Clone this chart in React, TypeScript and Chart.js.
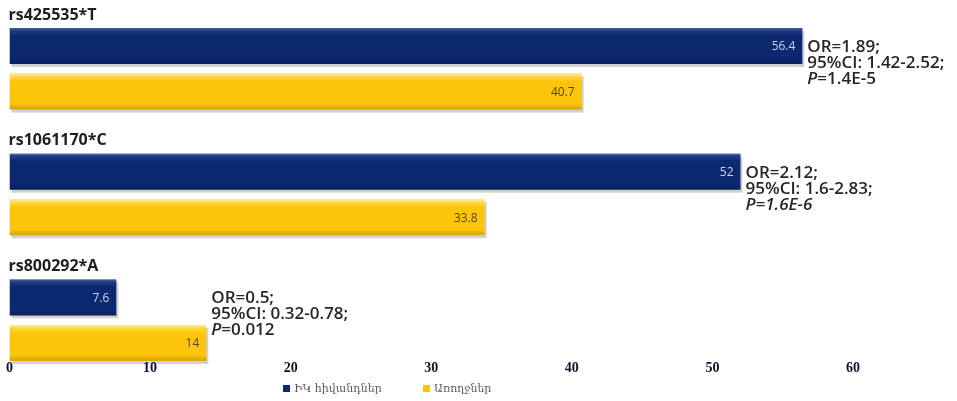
import { useEffect, useRef } from 'react';
import { Chart, registerables } from 'chart.js';

Chart.register(...registerables);

const categories = ['rs425535*T', 'rs1061170*C', 'rs800292*A'];
const seriesNames = ['ԻԿ հիվանդներ', 'Առողջներ'];
const patients = [56.4, 52, 7.6];
const healthy = [40.7, 33.8, 14];
const orValues = ['1.89', '2.12', '0.5'];
const ciValues = ['1.42-2.52', '1.6-2.83', '0.32-0.78'];
const pValues = ['1.4E-5', '1.6E-6', '0.012'];
const pAllItalic = [false, true, false];
const noteAnchorSeries = [0, 0, 1];
const xTicks = [0, 10, 20, 30, 40, 50, 60];
const xMax = 67.4;
const seriesColors = ['#0b2870', '#fcc40a'];
const valueLabelColors = ['#c9d4f0', '#5a4810'];

const TEXT_FONT = '"Open Sans", Lato, "DejaVu Sans", sans-serif';

const decorPlugin = {
  id: 'decor',
  beforeDatasetsDraw(chart: any) {
    const ctx = chart.ctx;
    ctx.save();
    chart.data.datasets.forEach((_: any, d: number) => {
      const meta = chart.getDatasetMeta(d);
      meta.data.forEach((el: any) => {
        const p = el.getProps(['x', 'y', 'base', 'height'], true);
        ctx.fillStyle = 'rgba(0,0,0,0.18)';
        ctx.fillRect(p.base + 2, p.y - p.height / 2 + 3, p.x - p.base, p.height);
      });
    });
    ctx.restore();
  },
  afterDatasetsDraw(chart: any) {
    const ctx = chart.ctx;
    ctx.save();
    chart.data.datasets.forEach((_: any, d: number) => {
      const meta = chart.getDatasetMeta(d);
      meta.data.forEach((el: any) => {
        const p = el.getProps(['x', 'y', 'base', 'height'], true);
        const top = p.y - p.height / 2;
        const g = ctx.createLinearGradient(0, top, 0, top + p.height);
        if (d === 0) {
          g.addColorStop(0, 'rgba(120,150,220,0.55)');
          g.addColorStop(0.08, 'rgba(120,150,220,0.15)');
          g.addColorStop(0.2, 'rgba(255,255,255,0)');
          g.addColorStop(0.85, 'rgba(0,0,0,0)');
          g.addColorStop(1, 'rgba(0,0,0,0.2)');
        } else {
          g.addColorStop(0, 'rgba(255,250,200,0.8)');
          g.addColorStop(0.1, 'rgba(255,245,150,0.35)');
          g.addColorStop(0.22, 'rgba(255,255,255,0)');
          g.addColorStop(0.85, 'rgba(0,0,0,0)');
          g.addColorStop(1, 'rgba(120,80,0,0.25)');
        }
        ctx.fillStyle = g;
        ctx.fillRect(p.base, top, p.x - p.base, p.height);
      });
    });

    ctx.font = '12px ' + TEXT_FONT;
    ctx.textAlign = 'right';
    ctx.textBaseline = 'middle';
    chart.data.datasets.forEach((ds: any, d: number) => {
      const meta = chart.getDatasetMeta(d);
      meta.data.forEach((el: any, i: number) => {
        const p = el.getProps(['x', 'y'], true);
        ctx.fillStyle = valueLabelColors[d];
        ctx.fillText(String(ds.data[i]), p.x - 7, p.y + 1);
      });
    });

    const navy = chart.getDatasetMeta(0);
    ctx.textAlign = 'left';
    ctx.fillStyle = '#1e1e1e';
    ctx.font = 'bold 16px ' + TEXT_FONT;
    categories.forEach((c, i) => {
      const p = navy.data[i].getProps(['y', 'height'], true);
      ctx.fillText(c, chart.chartArea.left - 1, p.y - p.height / 2 - 13);
    });

    const noteFont = '600 17px ' + TEXT_FONT;
    const noteItalic = 'italic 600 17px ' + TEXT_FONT;
    ctx.fillStyle = '#262626';
    categories.forEach((_, i) => {
      const anchor = chart.getDatasetMeta(noteAnchorSeries[i]).data[i].getProps(['x'], true);
      const ny = navy.data[i].getProps(['y'], true).y;
      const x = anchor.x + 5;
      const y0 = ny + 1;
      const lh = 16;
      ctx.font = noteFont;
      ctx.fillText('OR=' + orValues[i] + ';', x, y0);
      ctx.fillText('95%CI: ' + ciValues[i] + ';', x, y0 + lh);
      if (pAllItalic[i]) {
        ctx.font = noteItalic;
        ctx.fillText('P=' + pValues[i], x, y0 + 2 * lh);
      } else {
        ctx.font = noteItalic;
        ctx.fillText('P', x, y0 + 2 * lh);
        const w = ctx.measureText('P').width;
        ctx.font = noteFont;
        ctx.fillText('=' + pValues[i], x + w, y0 + 2 * lh);
      }
    });

    ctx.font = '11px "DejaVu Serif", serif';
    ctx.textBaseline = 'middle';
    const legendY = 389;
    const legendX = [283, 423];
    seriesNames.forEach((name, d) => {
      ctx.fillStyle = seriesColors[d];
      ctx.fillRect(legendX[d], legendY - 4, 7, 7);
      ctx.fillStyle = '#5a5a5a';
      ctx.fillText(name, legendX[d] + 11, legendY);
    });
    ctx.restore();
  },
};

export default function App() {
  const canvasRef = useRef<HTMLCanvasElement | null>(null);

  useEffect(() => {
    if (!canvasRef.current) return;
    const chart = new Chart(canvasRef.current, {
      type: 'bar',
      data: {
        labels: categories,
        datasets: [
          {
            label: seriesNames[0],
            data: patients,
            backgroundColor: seriesColors[0],
            categoryPercentage: 0.725,
            barPercentage: 0.79,
          },
          {
            label: seriesNames[1],
            data: healthy,
            backgroundColor: seriesColors[1],
            categoryPercentage: 0.725,
            barPercentage: 0.79,
          },
        ],
      },
      options: {
        indexAxis: 'y',
        animation: false,
        responsive: false,
        devicePixelRatio: 1,
        layout: { padding: { left: 7, top: 6, right: 0, bottom: 18 } },
        scales: {
          x: {
            min: 0,
            max: xMax,
            afterBuildTicks: (s: any) => {
              s.ticks = xTicks.map((v) => ({ value: v }));
            },
            afterFit: (s: any) => {
              s.height = 0;
            },
            grid: { display: false, drawTicks: false },
            border: { display: false },
            ticks: {
              mirror: true,
              padding: 6,
              autoSkip: false,
              maxRotation: 0,
              color: '#101030',
              font: { family: '"Liberation Serif", serif', weight: 'bold', size: 14 },
            },
          },
          y: { display: false },
        },
        plugins: {
          legend: { display: false },
          tooltip: { enabled: false },
        },
      },
      plugins: [decorPlugin],
    } as any);
    return () => chart.destroy();
  }, []);

  return (
    <div style={{ position: 'absolute', left: 0, top: 0, width: 957, height: 401, background: '#fff' }}>
      <canvas ref={canvasRef} width={957} height={401} />
    </div>
  );
}
